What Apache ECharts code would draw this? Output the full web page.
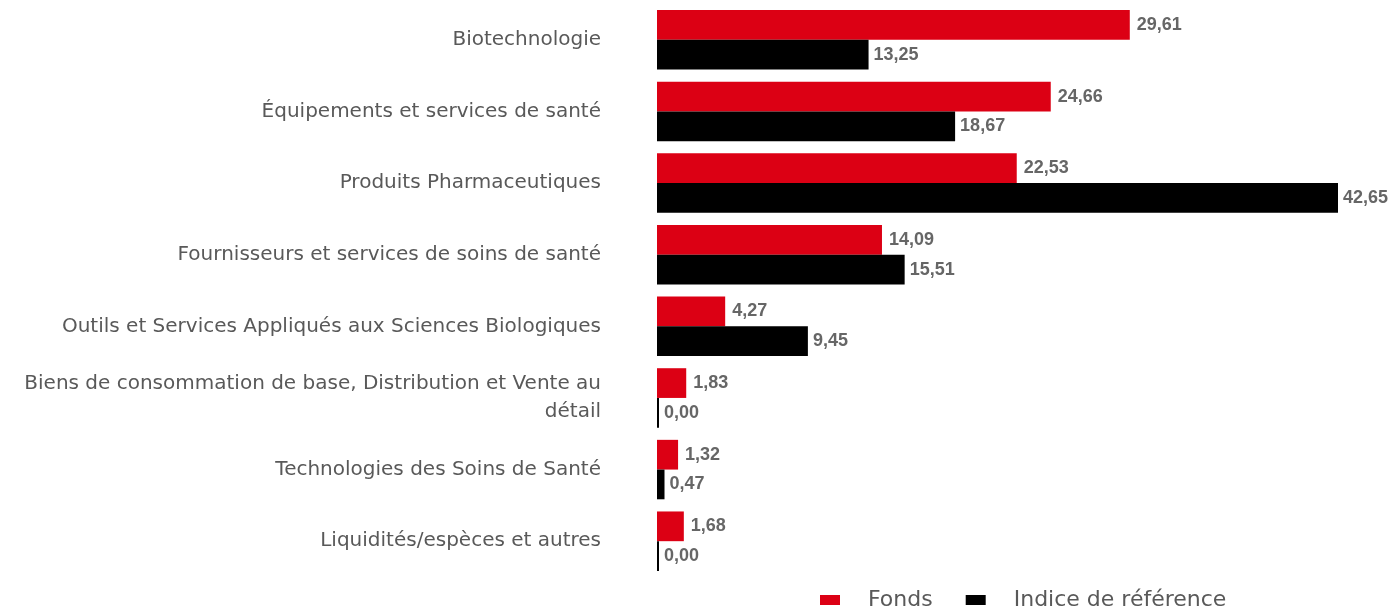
<!DOCTYPE html>
<html>
<head>
<meta charset="utf-8">
<script src="https://cdn.jsdelivr.net/npm/echarts@6/dist/echarts.min.js"></script>
<style>
  html, body { margin: 0; padding: 0; background: #fff; }
  #chart { width: 1393px; height: 609px; }
</style>
</head>
<body>
<div id="chart"></div>
<script>
const categories = [
  'Biotechnologie',
  'Équipements et services de santé',
  'Produits Pharmaceutiques',
  'Fournisseurs et services de soins de santé',
  'Outils et Services Appliqués aux Sciences Biologiques',
  'Biens de consommation de base, Distribution et Vente au détail',
  'Technologies des Soins de Santé',
  'Liquidités/espèces et autres'
]
const fonds = [29.61, 24.66, 22.53, 14.09, 4.27, 1.83, 1.32, 1.68]
const indice = [13.25, 18.67, 42.65, 15.51, 9.45, 0.0, 0.47, 0.0]

const FONT = '"DejaVu Sans", sans-serif'
const LABEL_SIZE = 20
const LABEL_WIDTH = 595

// coupe les libellés trop longs sur plusieurs lignes (sans espace en fin de ligne)
const ctx = document.createElement('canvas').getContext('2d')
ctx.font = LABEL_SIZE + 'px ' + FONT
const wrap = text => {
  const lines = []
  let line = ''
  text.split(' ').forEach(w => {
    const test = line ? line + ' ' + w : w
    if (line && ctx.measureText(test).width > LABEL_WIDTH) {
      lines.push(line)
      line = w
    } else {
      line = test
    }
  })
  lines.push(line)
  return lines.join('\n')
}

const chart = echarts.init(document.getElementById('chart'))
const fmt = p => p.value.toFixed(2).replace('.', ',')

const valueLabel = {
  show: true,
  position: 'right',
  formatter: fmt,
  fontFamily: '"Liberation Sans", Arial, sans-serif',
  fontSize: 18,
  fontWeight: 'bold',
  color: '#666666'
}

const option = {
  animation: false,
  textStyle: { fontFamily: FONT },
  grid: { left: 657, right: 55, top: 4, bottom: 32 },
  legend: {
    left: 815,
    top: 584,
    itemWidth: 20,
    itemHeight: 10,
    itemGap: 33,
    icon: 'rect',
    textStyle: { fontSize: 22, color: '#595959', padding: [0, 0, 0, 23] },
    data: ['Fonds', 'Indice de référence']
  },
  xAxis: {
    type: 'value',
    min: 0,
    max: 42.65,
    show: false
  },
  yAxis: {
    type: 'category',
    inverse: true,
    data: categories,
    axisLine: { show: false },
    axisTick: { show: false },
    axisLabel: {
      margin: 56,
      fontSize: LABEL_SIZE,
      color: '#595959',
      lineHeight: 28,
      align: 'right',
      formatter: wrap
    }
  },
  series: [
    {
      type: 'bar',
      name: 'Fonds',
      data: fonds,
      barCategoryGap: '17%',
      barGap: '0%',
      itemStyle: { color: '#DC0014' },
      label: { ...valueLabel, distance: 7 }
    },
    {
      type: 'bar',
      name: 'Indice de référence',
      data: indice,
      barMinHeight: 2,
      barCategoryGap: '17%',
      barGap: '0%',
      itemStyle: { color: '#000000' },
      label: { ...valueLabel, distance: 5 }
    }
  ]
}
chart.setOption(option)
</script>
</body>
</html>
